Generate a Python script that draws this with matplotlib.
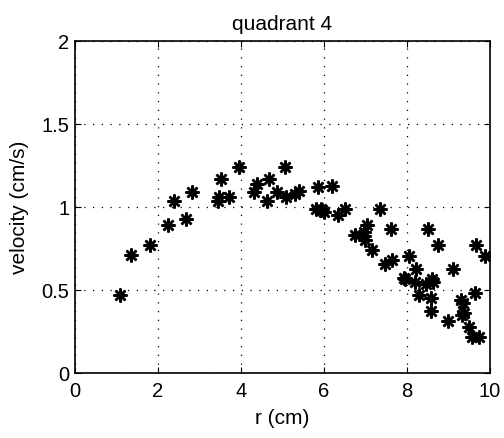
import matplotlib
matplotlib.use("Agg")
import matplotlib.pyplot as plt

r_cm = [1.08, 1.35, 1.81, 2.24, 2.39, 2.67, 2.83, 3.44, 3.48, 3.51, 3.71, 3.94,
        4.32, 4.39, 4.68, 4.63, 4.86, 5.06, 5.09, 5.30, 5.41, 5.86, 6.19, 5.80,
        5.96, 6.00, 5.92, 6.35, 6.51, 7.34, 7.04, 6.76, 6.96, 7.00, 6.96, 7.15,
        7.61, 7.47, 7.65, 8.05, 8.21, 8.51, 8.74, 9.11, 9.67, 9.88, 7.93, 8.61,
        7.95, 8.19, 8.45, 8.63, 8.28, 8.57, 8.59, 8.99, 9.36, 9.30, 9.64, 9.32,
        9.37, 9.49, 9.57, 9.73]
velocity = [0.47, 0.71, 0.77, 0.89, 1.04, 0.93, 1.09, 1.04, 1.06, 1.17, 1.06, 1.24,
            1.09, 1.14, 1.17, 1.04, 1.09, 1.24, 1.06, 1.08, 1.10, 1.12, 1.13, 0.99,
            0.985, 0.97, 0.99, 0.955, 0.99, 0.99, 0.89, 0.83, 0.825, 0.80, 0.85, 0.74,
            0.87, 0.66, 0.68, 0.705, 0.625, 0.87, 0.77, 0.625, 0.77, 0.705, 0.575, 0.57,
            0.565, 0.55, 0.54, 0.55, 0.47, 0.45, 0.375, 0.315, 0.42, 0.44, 0.48, 0.35,
            0.36, 0.28, 0.215, 0.22]

plt.rcParams['font.family'] = ['Liberation Sans', 'DejaVu Sans']

fig = plt.figure(figsize=(5.04, 4.38), dpi=100)
ax = fig.add_axes([0.149, 0.148, 0.823, 0.758])
ax.plot(r_cm, velocity, linestyle='none', marker=(8, 2, 0), markersize=10,
        markeredgewidth=1.8, color='black')
ax.set_xlim(0, 10)
ax.set_ylim(0, 2)
ax.set_xticks([0, 2, 4, 6, 8, 10])
ax.set_yticks([0, 0.5, 1, 1.5, 2])
ax.set_yticklabels(['0', '0.5', '1', '1.5', '2'])
ax.grid(True, linestyle=(0, (1, 6)), color='black', linewidth=0.9)
ax.tick_params(direction='in', labelsize=14.5, length=4, top=True, right=True)
ax.tick_params(axis='x', pad=6)
ax.tick_params(axis='y', pad=4)
for s in ax.spines.values():
    s.set_linewidth(1.2)
ax.set_xlabel('r (cm)', fontsize=15, labelpad=6)
ax.set_ylabel('velocity (cm/s)', fontsize=15, labelpad=9)
ax.set_title('quadrant 4', fontsize=15, pad=8)
fig.savefig('out.png', dpi=100)
